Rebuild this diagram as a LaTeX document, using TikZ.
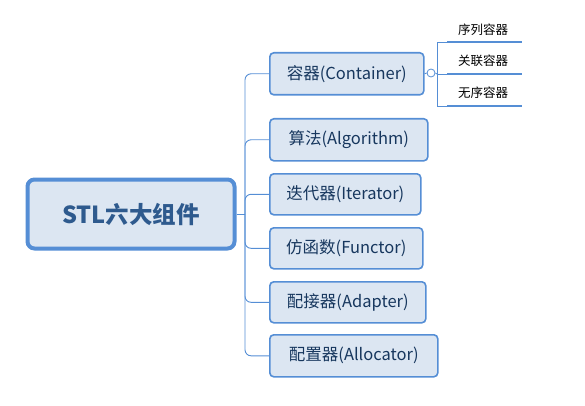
\documentclass[tikz,border=0pt]{standalone}
\usepackage{fontspec}
\setmainfont{Noto Sans CJK SC}
\newfontfamily\cjk{Noto Sans CJK SC}
\definecolor{boxfill}{HTML}{DCE6F2}
\definecolor{boxline}{HTML}{558ED5}
\definecolor{txt}{HTML}{17375E}
\definecolor{roottxt}{HTML}{2E5A8E}
\begin{document}
\begin{tikzpicture}[x=1pt,y=-1pt,
  child/.style={draw=boxline,line width=1.6pt,fill=boxfill,rounded corners=4pt,anchor=north west,inner sep=0pt,text=txt,font=\cjk\fontsize{16.5}{19}\selectfont},
  rootbox/.style={draw=boxline,line width=4pt,fill=boxfill,rounded corners=7pt,inner sep=0pt,text=roottxt,font=\cjk\bfseries\fontsize{23.5}{26}\selectfont},
  conn/.style={draw=boxline,line width=0.9pt},
  leaf/.style={font=\cjk\fontsize{12.5}{14}\selectfont,text=black,inner sep=0pt}]
\useasboundingbox (0,0) rectangle (585,406);
\node[rootbox,minimum width=207pt,minimum height=69pt] (root) at (131,214) {STL六大组件};
\node[child,minimum width=154pt,minimum height=42pt] (c1) at (269,52) {容器(Container)};
\node[child,minimum width=158pt,minimum height=42pt] (c2) at (269,118) {算法(Algorithm)};
\node[child,minimum width=151pt,minimum height=41pt] (c3) at (269,173) {迭代器(Iterator)};
\node[child,minimum width=153pt,minimum height=41pt] (c4) at (269,227) {仿函数(Functor)};
\node[child,minimum width=156pt,minimum height=41pt] (c5) at (269,281) {配接器(Adapter)};
\node[child,minimum width=168pt,minimum height=42pt] (c6) at (269,334) {配置器(Allocator)};
\coordinate (trunk) at (245,214);
\draw[conn] (root.east) -- (trunk);
\foreach \c in {c1,c2,c3,c4,c5,c6}{
  \draw[conn,rounded corners=6pt] (trunk) |- (\c.west);
}
% sub branches
\node[draw=boxline,line width=0.8pt,fill=white,circle,inner sep=0pt,minimum size=8pt] (knob) at (431,73) {};
\draw[conn] (c1.east) -- (knob.west);
\coordinate (br) at (437,74);
\draw[conn] (knob.east) -- (br);
\coordinate (u1a) at (447,42); \coordinate (u1b) at (522,42);
\coordinate (u2a) at (447,74); \coordinate (u2b) at (522,74);
\coordinate (u3a) at (447,106); \coordinate (u3b) at (522,106);
\draw[conn] (br) |- (u1a);
\draw[conn] (br) |- (u3a);
\draw[conn] (br) -- (u2a);
\draw[draw=boxline,line width=2.4pt] (u1a) -- (u1b);
\draw[draw=boxline,line width=2.4pt] (u2a) -- (u2b);
\draw[draw=boxline,line width=2.4pt] (u3a) -- (u3b);
\node[leaf] (l1) at (483,30) {序列容器};
\node[leaf] (l2) at (483,61) {关联容器};
\node[leaf] (l3) at (483,93) {无序容器};
\end{tikzpicture}
\end{document}
